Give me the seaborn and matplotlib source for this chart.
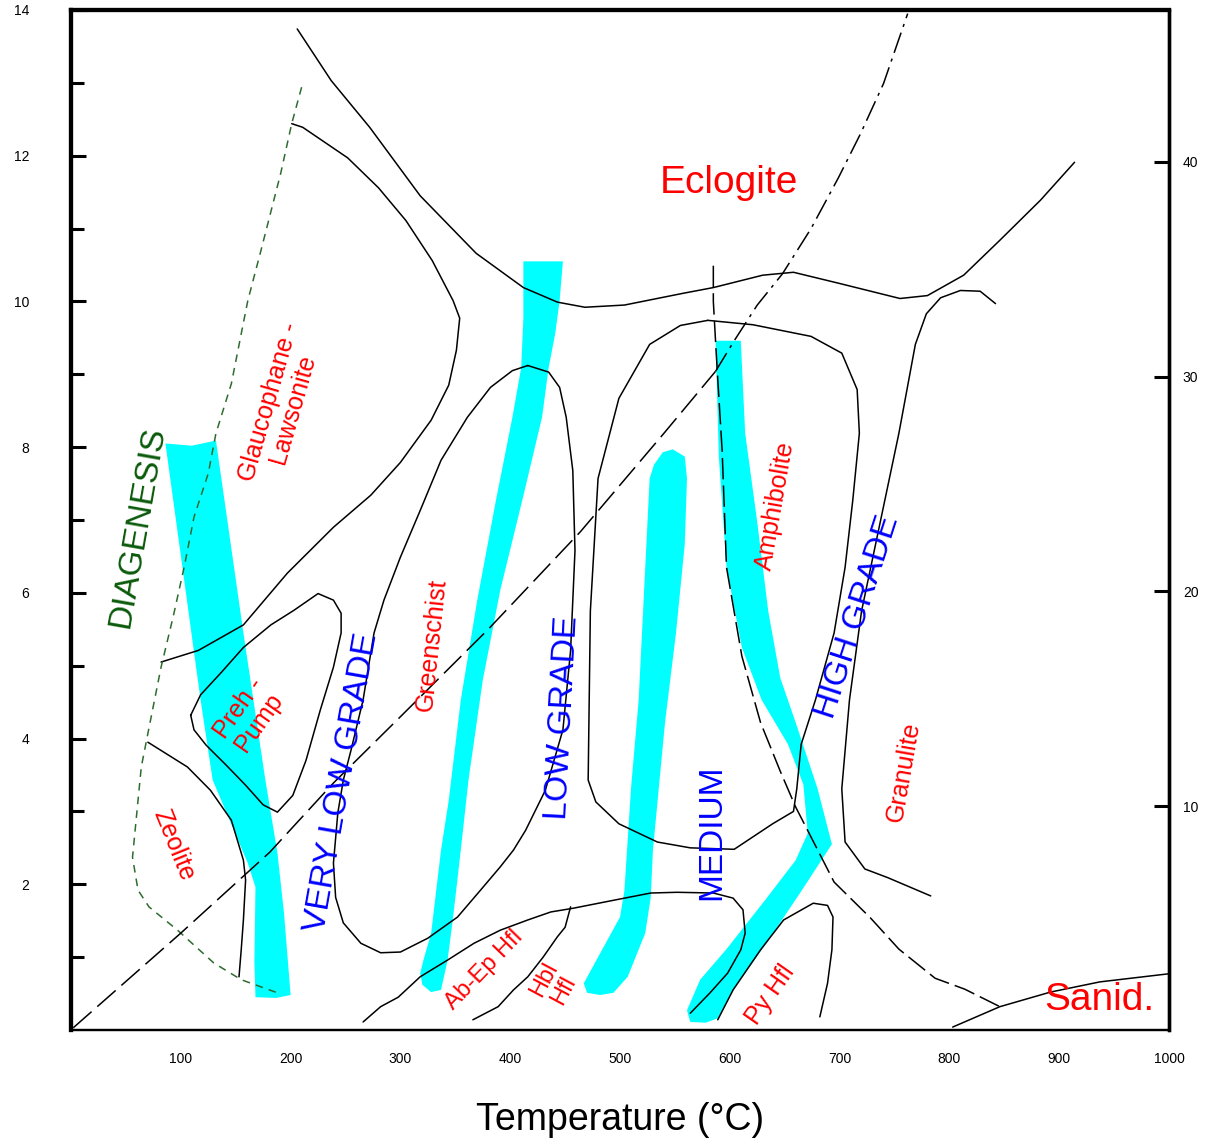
import numpy as np
import pandas as pd
import matplotlib
matplotlib.use("Agg")
import matplotlib.pyplot as plt
import seaborn as sns

# --- facies boundaries (T in degC, P in kbar) ---
eclogite_T = [206, 237, 272, 318, 369, 412, 443, 468, 504, 557, 585, 630, 658, 699, 755, 780, 813, 846, 883, 914]
eclogite_P = [13.74, 13.03, 12.39, 11.45, 10.66, 10.19, 9.99, 9.92, 9.95, 10.11, 10.19, 10.36, 10.40, 10.25, 10.04, 10.08, 10.36, 10.84, 11.39, 11.91]

geotherm_T = [2, 100, 181, 239, 300, 380, 464, 540, 587, 604, 625, 648, 674, 699, 719, 740, 762]
geotherm_P = [0.03, 1.33, 2.44, 3.39, 4.3, 5.5, 6.84, 8.19, 9.04, 9.46, 9.95, 10.38, 11.0, 11.7, 12.3, 12.99, 13.95]

amph_T = [585, 585, 587, 589, 593, 597, 611, 628, 646, 660, 695, 728, 754, 787, 814, 846]
amph_P = [10.49, 10.0, 9.46, 8.94, 7.96, 6.35, 5.13, 4.22, 3.55, 3.06, 2.03, 1.54, 1.11, 0.71, 0.56, 0.32]

blueschist_T = [201, 211, 252, 280, 305, 329, 348, 354, 351, 344, 328, 300, 273, 239, 197, 157, 116, 82]
blueschist_P = [12.44, 12.39, 11.97, 11.56, 11.11, 10.56, 10.01, 9.77, 9.33, 8.85, 8.37, 7.79, 7.34, 6.90, 6.27, 5.56, 5.21, 5.05]

prehpump_T = [109, 118, 137, 157, 182, 203, 225, 239, 246, 246, 239, 227, 214, 202, 188, 175, 159, 141, 123, 112, 109]
prehpump_P = [4.32, 4.60, 4.91, 5.25, 5.56, 5.76, 5.99, 5.90, 5.72, 5.45, 4.98, 4.39, 3.70, 3.22, 2.99, 3.09, 3.36, 3.64, 3.91, 4.12, 4.32]

zeolite_T = [70, 106, 127, 146, 157, 159, 157, 155, 153]
zeolite_P = [3.95, 3.61, 3.29, 2.88, 2.33, 2.06, 1.51, 1.10, 0.73]

diagenesis_T = [210, 201, 191, 173, 161, 146, 132, 125, 112, 103, 93, 82, 70, 64, 61, 56, 61, 71, 97, 130, 155, 188]
diagenesis_P = [12.94, 12.44, 11.76, 10.70, 10.01, 8.87, 8.19, 7.64, 7.04, 6.35, 5.67, 4.98, 4.07, 3.61, 3.15, 2.37, 1.92, 1.69, 1.37, 0.92, 0.69, 0.51]

greenschist_T = [416, 435, 445, 451, 457, 459, 455, 448, 432, 414, 403, 391, 373, 352, 325, 300, 282, 264, 248, 241,
                 239, 243, 248, 255, 266, 276, 285, 300, 318, 337, 361, 382, 402, 416]
greenschist_P = [9.12, 9.03, 8.82, 8.41, 7.68, 6.58, 5.21, 4.12, 3.29, 2.74, 2.47, 2.24, 1.92, 1.55, 1.26, 1.07, 1.06, 1.19, 1.47, 1.82,
                 2.29, 2.98, 3.43, 3.84, 4.53, 5.45, 5.90, 6.49, 7.13, 7.82, 8.41, 8.82, 9.05, 9.12]

medium_T = [580, 621, 674, 702, 716, 718, 712, 705, 695, 678, 665, 661, 658, 639, 604, 564, 534, 499, 478, 471, 473, 480, 499, 527, 555, 580]
medium_P = [9.74, 9.68, 9.52, 9.29, 8.79, 8.19, 7.27, 6.35, 5.45, 4.53, 3.92, 3.31, 3.00, 2.83, 2.48, 2.50, 2.58, 2.83, 3.13, 3.43, 5.75, 7.57, 8.67, 9.41, 9.67, 9.74]

granulite_T = [842, 828, 810, 792, 779, 769, 754, 737, 720, 709, 702, 705, 723, 744, 783]
granulite_P = [9.97, 10.14, 10.15, 10.05, 9.83, 9.41, 8.19, 6.97, 5.75, 4.53, 3.31, 2.58, 2.21, 2.09, 1.84]

abep_T = [266, 282, 298, 318, 343, 367, 391, 416, 437, 457, 494, 528, 552, 585, 603, 612, 614, 610, 598, 582, 564]
abep_P = [0.11, 0.32, 0.45, 0.73, 0.96, 1.19, 1.37, 1.51, 1.62, 1.67, 1.78, 1.88, 1.89, 1.88, 1.81, 1.65, 1.33, 1.10, 0.78, 0.51, 0.23]

hbl_T = [455, 450, 443, 430, 416, 403, 389, 366]
hbl_P = [1.69, 1.41, 1.28, 1.00, 0.73, 0.55, 0.32, 0.14]

py_T = [589, 603, 628, 649, 676, 689, 694, 693, 689, 682]
py_P = [0.14, 0.55, 1.10, 1.51, 1.74, 1.71, 1.55, 1.10, 0.64, 0.18]

sanid_T = [803, 846, 892, 937, 999]
sanid_P = [0.04, 0.32, 0.52, 0.66, 0.77]

# --- metamorphic grade paths (cyan bands) ---
band1_T = [86, 110, 132, 157, 177, 188, 194, 200, 187, 168, 167, 168, 161, 129, 118, 86]
band1_P = [8.05, 8.02, 8.09, 5.45, 3.43, 2.43, 1.60, 0.48, 0.44, 0.45, 0.93, 1.96, 2.29, 3.43, 4.53, 8.05]

band2_T = [412, 412, 410, 402, 387, 370, 355, 344, 337, 328, 321, 318, 320, 328, 337, 343, 348, 355, 362, 375, 391, 411, 429, 435, 441, 445, 448]
band2_P = [10.55, 9.78, 9.09, 8.41, 7.27, 5.90, 4.53, 3.15, 2.47, 1.33, 0.96, 0.78, 0.62, 0.52, 0.55, 0.96, 1.55, 2.47, 3.43, 4.80, 6.04, 7.27, 8.41, 9.09, 9.56, 10.01, 10.55]

band3_T = [531, 527, 523, 517, 510, 504, 500, 480, 467, 470, 482, 494, 507, 523, 528, 530, 541, 551, 559, 561, 559, 548, 539]
band3_P = [7.76, 7.57, 6.35, 4.53, 3.31, 1.91, 1.55, 1.00, 0.64, 0.51, 0.48, 0.51, 0.73, 1.33, 1.82, 2.47, 4.22, 5.45, 6.67, 7.57, 7.87, 7.97, 7.93]

band4_T = [587, 590, 597, 611, 629, 653, 667, 671, 660, 632, 597, 573, 561, 564, 578, 589, 603, 631, 664, 693, 680, 660, 646, 635, 625, 614, 610]
band4_P = [9.46, 7.87, 6.35, 5.25, 4.53, 3.92, 3.37, 2.70, 2.33, 1.78, 1.11, 0.69, 0.27, 0.11, 0.10, 0.16, 0.55, 1.14, 1.88, 2.55, 3.31, 4.22, 4.83, 5.75, 6.97, 8.19, 9.46]

# --- labels: text, T, P, rotation, size, colour ---
labels = [
    ("Eclogite", 599, 11.62, 0, 28, "red"),
    ("Glaucophane -\nLawsonite", 191, 8.57, 74, 18, "red"),
    ("DIAGENESIS", 61, 6.90, 80, 24, "#0b5a0b"),
    ("Preh -\nPump", 162, 4.32, 55, 18, "red"),
    ("Zeolite", 94, 2.54, -68, 18, "red"),
    ("VERY LOW GRADE", 247, 3.40, 80, 24, "blue"),
    ("Greenschist", 329, 5.28, 84, 18, "red"),
    ("LOW GRADE", 448, 4.28, 87, 24, "blue"),
    ("MEDIUM", 584, 2.72, 90, 24, "blue"),
    ("Amphibolite", 642, 7.20, 80, 18, "red"),
    ("HIGH GRADE", 716, 5.67, 72, 24, "blue"),
    ("Granulite", 758, 3.54, 80, 18, "red"),
    ("Ab-Ep Hfl", 376, 0.82, 46, 17, "red"),
    ("Hbl\nHfl", 440, 0.62, 62, 17, "red"),
    ("Py Hfl", 637, 0.48, 55, 18, "red"),
    ("Sanid.", 937, 0.41, 0, 28, "red"),
]

x_ticks = [100, 200, 300, 400, 500, 600, 700, 800, 900, 1000]
p_ticks = [2, 4, 6, 8, 10, 12, 14]
depth_ticks = [10, 20, 30, 40]

sns.set_style("white")
plt.rcParams['font.family'] = ['Liberation Sans', 'DejaVu Sans']
plt.rcParams['text.color'] = 'black'
plt.rcParams['axes.labelcolor'] = 'black'
plt.rcParams['xtick.color'] = 'black'
plt.rcParams['ytick.color'] = 'black'

fig = plt.figure(figsize=(12.1, 11.48), dpi=100)
ax = fig.add_axes([0.0587, 0.1028, 0.9074, 0.8885])


def curve(T, P, color="black", ls="-", lw=1.1):
    df = pd.DataFrame({"T": T, "P": P})
    n0 = len(ax.lines)
    sns.lineplot(data=df, x="T", y="P", ax=ax, sort=False, estimator=None,
                 color=color, linewidth=lw, zorder=3)
    for ln in ax.lines[n0:]:
        ln.set_linestyle(ls)


# cyan bands below the lines
for bT, bP in [(band1_T, band1_P), (band2_T, band2_P), (band3_T, band3_P), (band4_T, band4_P)]:
    ax.fill(bT, bP, color="#00ffff", lw=0, zorder=1)

curve(eclogite_T, eclogite_P)
curve(blueschist_T, blueschist_P)
curve(prehpump_T, prehpump_P)
curve(zeolite_T, zeolite_P)
curve(greenschist_T, greenschist_P)
curve(medium_T, medium_P)
curve(granulite_T, granulite_P)
curve(abep_T, abep_P)
curve(hbl_T, hbl_P)
curve(py_T, py_P)
curve(sanid_T, sanid_P)
curve(diagenesis_T, diagenesis_P, color="#2e6b2e", ls=(0, (5, 4)))
# lower part long dashes, upper part dash-dot
curve(geotherm_T[:9], geotherm_P[:9], ls=(0, (16, 5)))
curve(geotherm_T[8:], geotherm_P[8:], ls=(0, (14, 4, 2, 4)))
curve(amph_T, amph_P, ls=(0, (14, 4)))

for txt, t, p, rot, size, col in labels:
    ax.text(t, p, txt, rotation=rot, fontsize=size, color=col, ha="center", va="center",
            rotation_mode="anchor", linespacing=1.0, zorder=5)

ax.set_xlim(0, 1000)
ax.set_ylim(0, 14)
ax.set_xticks(x_ticks)
ax.set_xticklabels([str(v) for v in x_ticks], fontsize=10)
ax.set_yticks(p_ticks)
ax.set_yticklabels([str(v) for v in p_ticks], fontsize=10)
ax.set_yticks([1, 3, 5, 7, 9, 11, 13], minor=True)
ax.tick_params(axis="x", direction="in", length=11, width=2.2, pad=16, colors="black")
ax.tick_params(axis="y", which="major", direction="in", length=11, width=2.2, pad=30, colors="black")
ax.tick_params(axis="y", which="minor", direction="in", length=9, width=2.2, colors="black")
ax.set_xlabel("Temperature (°C)", fontsize=27, labelpad=26, color="black")
ax.set_ylabel("")

ax2 = ax.twinx()
ax2.set_ylim(-0.43, 47.07)
ax2.set_yticks(depth_ticks)
ax2.set_yticklabels([str(v) for v in depth_ticks], fontsize=10)
ax2.tick_params(axis="y", direction="in", length=11, width=2.2, pad=10, colors="black")

for a in (ax, ax2):
    a.spines["left"].set_linewidth(3)
    a.spines["top"].set_linewidth(3)
    a.spines["right"].set_linewidth(2.4)
    a.spines["bottom"].set_linewidth(1.6)
    for s in a.spines.values():
        s.set_color("black")

fig.savefig("out.png", dpi=100)
